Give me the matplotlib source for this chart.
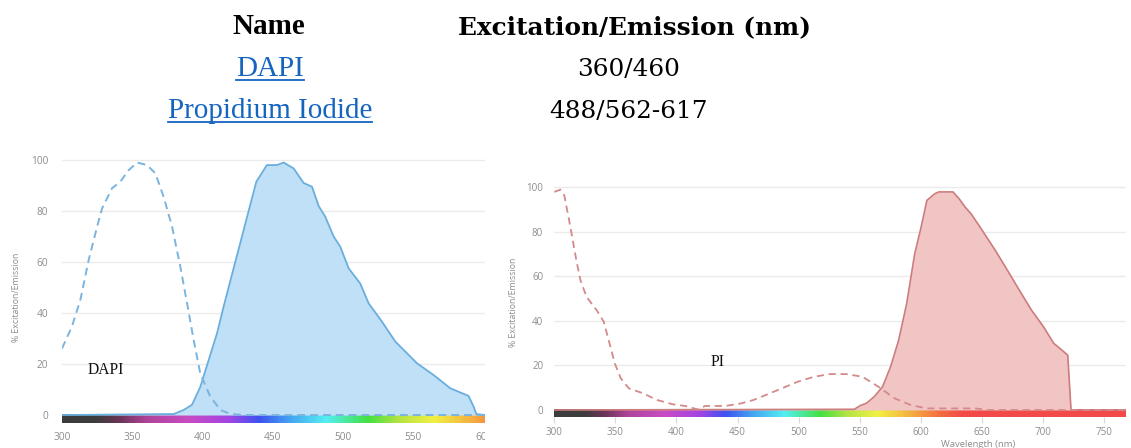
import numpy as np
import matplotlib
matplotlib.use("Agg")
import matplotlib.pyplot as plt
from matplotlib.colors import LinearSegmentedColormap
from matplotlib.lines import Line2D
from matplotlib.transforms import Bbox, TransformedBbox

# ---------------- data ----------------
table_header = ["Name", "Excitation/Emission (nm)"]
table_names = ["DAPI", "Propidium Iodide"]
table_values = ["360/460", "488/562-617"]

dapi_ex_wl = [300, 307, 313, 319, 325, 328.5, 335.6, 341.5, 347.4, 353.4, 360.5, 366.4, 372.3,
              378.3, 384.2, 389, 393.7, 398.4, 405.5, 412.7, 419.8, 430, 600]
dapi_ex = [26.1, 34.6, 45, 60.8, 73.9, 81, 88.9, 91.5, 96, 99, 98, 94.8, 85.6,
           73.9, 58.2, 43.8, 29.4, 16.3, 7.2, 2, 0.4, 0, 0]

dapi_em_wl = [300, 379.5, 386.6, 392.5, 398.4, 404.4, 410.3, 415, 423.3, 432.8, 438.3, 445.8, 453,
              457.7, 464.8, 471.9, 477.9, 482.6, 487.3, 493.3, 498, 504, 512.2, 518.2, 527.7,
              537.2, 552.6, 564.4, 576.3, 589.3, 592.9, 594.8, 601]
dapi_em = [0, 0.4, 2, 4, 11, 21.6, 32, 42.5, 60, 80, 91.5, 98, 98,
           99, 96.7, 91, 89.5, 82, 77.8, 70, 66, 57.5, 51.6, 43.8, 36.6,
           28.8, 20.3, 15.7, 10.5, 7.5, 3.3, 0.4, 0]

pi_ex_wl = [300, 304.9, 308.2, 313.2, 318.1, 321.4, 326.4, 334.6, 340.5, 344.5, 349.5, 354.4, 361,
            372.5, 384, 397.3, 407.1, 417, 423.6, 440.1, 453.3, 463.2, 473.1, 486.3, 499.4,
            512.6, 525.8, 539, 552.2, 565.4, 578.6, 591.8, 604.9, 618.1, 644.5, 654.4, 768]
pi_ex = [97.8, 98.8, 96.3, 82, 67, 58.2, 50.7, 44.8, 39.6, 31.3, 20.9, 14.2, 9.7,
         7.5, 4.5, 2.5, 1.8, 0.3, 1.8, 1.8, 3, 4.5, 6.7, 9.7, 12.7,
         14.9, 16.1, 16.1, 14.9, 10.4, 5.2, 2.2, 0.7, 0.7, 0.7, 0, 0]

pi_em_wl = [300, 545.6, 550.5, 555.5, 562, 568.7, 575.3, 581.9, 588.5, 595, 600, 605, 611.5,
            614.8, 626.4, 631.3, 636.3, 641.2, 651.1, 661, 670.9, 680.7, 690.6, 700.5, 708.8,
            715.4, 720.3, 723, 768]
pi_em = [0, 0.3, 2, 3, 6, 10.4, 19.4, 31.3, 47.8, 70, 81.3, 94, 97,
         97.8, 97.8, 94.8, 91, 88, 79.9, 71.6, 62.7, 53.7, 44.8, 37.3, 29.9,
         26.9, 24.6, 0, 0]

x_ticks_left = [300, 350, 400, 450, 500, 550, 600]
x_ticks_right = [300, 350, 400, 450, 500, 550, 600, 650, 700, 750]
y_ticks = [0, 20, 40, 60, 80, 100]

# ---------------- style ----------------
W, H = 1131, 448
fig = plt.figure(figsize=(W / 100, H / 100), dpi=100)

spec_stops = [(300, "#3c3c3c"), (323, "#3c3c3c"), (340, "#6a3458"), (360, "#b0449a"),
              (390, "#c84cc4"), (418, "#a444e4"), (440, "#3e52f0"), (462, "#44a4f2"),
              (488, "#54eef2"), (505, "#48e890"), (518, "#44e040"), (540, "#b4e444"),
              (565, "#f2f044"), (592, "#f4b040"), (615, "#f47040"), (635, "#f24a48"),
              (770, "#f24a4a")]
lo, hi = spec_stops[0][0], spec_stops[-1][0]
spec_cmap = LinearSegmentedColormap.from_list(
    "spec", [((w - lo) / (hi - lo), c) for w, c in spec_stops])

tick_color = "#8c8c8c"
grid_color = "#ebebeb"
label_font = "Open Sans"


def px_axes(left, top, right, bottom):
    return fig.add_axes([left / W, 1 - bottom / H, (right - left) / W, (bottom - top) / H])


def style_axes(ax, xmin, xmax, xticks, tick_fs, pad_y, pad_x, tick_len):
    ax.set_xlim(xmin, xmax)
    ax.set_ylim(-3.2, 100.5)
    for s in ax.spines.values():
        s.set_visible(False)
    ax.set_yticks(y_ticks)
    ax.set_xticks(xticks)
    ax.tick_params(axis="y", length=0, pad=pad_y, labelsize=tick_fs, labelcolor=tick_color)
    ax.tick_params(axis="x", length=tick_len, width=0.8, color="#d8d8d8", pad=pad_x,
                   labelsize=tick_fs, labelcolor=tick_color)
    for lbl in ax.get_xticklabels() + ax.get_yticklabels():
        lbl.set_fontfamily(label_font)
    ax.grid(axis="y", color=grid_color, lw=1.0, zorder=0)
    ax.set_axisbelow(True)
    ax.patch.set_alpha(0)
    wl = np.linspace(xmin, xmax, 600)
    img = spec_cmap((wl - lo) / (hi - lo))[None, :, :]
    ax.imshow(img, extent=(xmin, xmax, -3.2, 0), aspect="auto", zorder=1,
              interpolation="bilinear")


# ---- left panel (DAPI) ----
axL = px_axes(62, 158.7, 485, 423.2)
style_axes(axL, 300, 601, x_ticks_left, 7.3, 10, 6, 0)
axL.fill_between(dapi_em_wl, dapi_em, 0, color="#bfe0f6", lw=0, zorder=2)
axL.plot(dapi_em_wl, dapi_em, color="#6aaedd", lw=1.3, zorder=3)
axL.plot(dapi_ex_wl, dapi_ex, color="#7ab4df", lw=1.4, ls=(0, (4, 2.6)), zorder=4)
axL.text(318.5, 17.6, "DAPI", fontfamily="Liberation Serif", fontsize=11.2,
         ha="left", va="center", color="#111111", zorder=5)
clip = TransformedBbox(Bbox.from_extents(0, 0, 485 / W, 1), fig.transFigure)
for lbl in axL.get_xticklabels():
    lbl.set_clip_box(clip)
    lbl.set_clip_on(True)
fig.text(16.5 / W, 1 - 297 / H, "% Excitation/Emission", rotation=90, ha="center",
         va="center", fontsize=6.3, color=tick_color, fontfamily=label_font)

# ---- right panel (PI) ----
axR = px_axes(554.3, 185.9, 1126, 417.1)
style_axes(axR, 300, 768, x_ticks_right, 7.0, 8.0, 3, 4)
axR.fill_between(pi_em_wl, pi_em, 0, color="#f1c5c4", lw=0, zorder=2)
axR.plot(pi_em_wl, pi_em, color="#cc7c7c", lw=1.2, zorder=3)
axR.plot(pi_ex_wl, pi_ex, color="#d48a8a", lw=1.3, ls=(0, (4, 2.6)), zorder=4)
axR.text(433.3, 21.7, "PI", fontfamily="Liberation Serif", fontsize=11.5,
         ha="center", va="center", color="#111111", zorder=5)
fig.text(514 / W, 1 - 302 / H, "% Excitation/Emission", rotation=90, ha="center",
         va="center", fontsize=6.3, color=tick_color, fontfamily=label_font)
axR.text(0.7415, -0.118, "Wavelength (nm)", transform=axR.transAxes, ha="center",
         va="center", fontsize=6.8, color=tick_color, fontfamily=label_font)

# ---- header table ----
link_color = "#1565c0"
fig.text(269 / W, 1 - 34 / H, table_header[0], ha="center", va="baseline",
         fontfamily="Liberation Serif", fontweight="bold", fontsize=21, color="black")
fig.text(635 / W, 1 - 34 / H, table_header[1], ha="center", va="baseline",
         fontfamily="DejaVu Serif", fontweight="bold", fontsize=17.8, color="black")
name_texts = []
for name, val, base in zip(table_names, table_values, [76, 118]):
    t = fig.text(270 / W, 1 - base / H, name, ha="center", va="baseline",
                 fontfamily="Liberation Serif", fontsize=21, color=link_color)
    name_texts.append((t, base))
    fig.text(629 / W, 1 - base / H, val, ha="center", va="baseline",
             fontfamily="DejaVu Serif", fontsize=17.8, color="black")

fig.canvas.draw()
r = fig.canvas.get_renderer()
for t, base in name_texts:
    bb = t.get_window_extent(r)
    yline = 1 - (base + 3.5) / H
    fig.add_artist(Line2D([bb.x0 / W, bb.x1 / W], [yline, yline], transform=fig.transFigure,
                          color=link_color, lw=1.3))

fig.savefig("out.png", dpi=100)
